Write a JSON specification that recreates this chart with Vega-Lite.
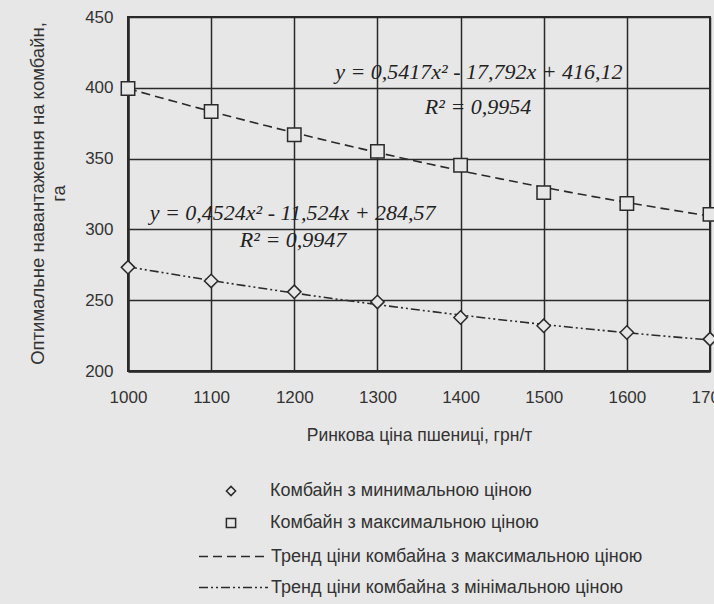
{
  "$schema": "https://vega.github.io/schema/vega-lite/v6.json",
  "width": 582,
  "height": 354,
  "autosize": {"type": "none"},
  "padding": {"left": 128, "top": 17, "right": 4, "bottom": 233},
  "background": "#e7e7e7",
  "config": {
    "view": {"stroke": "#2a2a2a", "strokeWidth": 2},
    "font": "Liberation Sans, Arial",
    "axis": {
      "grid": true,
      "gridColor": "#2a2a2a",
      "gridWidth": 1.5,
      "gridOpacity": 1,
      "domainColor": "#2a2a2a",
      "domainWidth": 2.5,
      "ticks": false,
      "labelFont": "Liberation Sans, Arial",
      "labelFontSize": 17,
      "labelColor": "#333",
      "titleFont": "Liberation Sans, Arial",
      "titleFontWeight": "normal",
      "titleColor": "#333"
    },
    "legend": {
      "orient": "none",
      "padding": 0,
      "labelFont": "Liberation Sans, Arial",
      "labelFontSize": 18,
      "labelColor": "#333",
      "labelLimit": 500,
      "symbolStrokeWidth": 1.5,
      "symbolOpacity": 1
    }
  },
  "datasets": {
    "pts": [
      {"price": 1000, "value": 273.2, "series": "Комбайн з минимальною ціною", "trend": "Тренд ціни комбайна з мінімальною ціною"},
      {"price": 1100, "value": 263.6, "series": "Комбайн з минимальною ціною", "trend": "Тренд ціни комбайна з мінімальною ціною"},
      {"price": 1200, "value": 255.9, "series": "Комбайн з минимальною ціною", "trend": "Тренд ціни комбайна з мінімальною ціною"},
      {"price": 1300, "value": 248.8, "series": "Комбайн з минимальною ціною", "trend": "Тренд ціни комбайна з мінімальною ціною"},
      {"price": 1400, "value": 237.8, "series": "Комбайн з минимальною ціною", "trend": "Тренд ціни комбайна з мінімальною ціною"},
      {"price": 1500, "value": 231.9, "series": "Комбайн з минимальною ціною", "trend": "Тренд ціни комбайна з мінімальною ціною"},
      {"price": 1600, "value": 227.2, "series": "Комбайн з минимальною ціною", "trend": "Тренд ціни комбайна з мінімальною ціною"},
      {"price": 1700, "value": 222.5, "series": "Комбайн з минимальною ціною", "trend": "Тренд ціни комбайна з мінімальною ціною"},
      {"price": 1000, "value": 399.5, "series": "Комбайн з максимальною ціною", "trend": "Тренд ціни комбайна з максимальною ціною"},
      {"price": 1100, "value": 383.3, "series": "Комбайн з максимальною ціною", "trend": "Тренд ціни комбайна з максимальною ціною"},
      {"price": 1200, "value": 366.9, "series": "Комбайн з максимальною ціною", "trend": "Тренд ціни комбайна з максимальною ціною"},
      {"price": 1300, "value": 355.1, "series": "Комбайн з максимальною ціною", "trend": "Тренд ціни комбайна з максимальною ціною"},
      {"price": 1400, "value": 345.3, "series": "Комбайн з максимальною ціною", "trend": "Тренд ціни комбайна з максимальною ціною"},
      {"price": 1500, "value": 326.0, "series": "Комбайн з максимальною ціною", "trend": "Тренд ціни комбайна з максимальною ціною"},
      {"price": 1600, "value": 318.3, "series": "Комбайн з максимальною ціною", "trend": "Тренд ціни комбайна з максимальною ціною"},
      {"price": 1700, "value": 310.6, "series": "Комбайн з максимальною ціною", "trend": "Тренд ціни комбайна з максимальною ціною"}
    ],
    "notes": [
      {"price": 1422, "value": 411, "label": "y = 0,5417x² - 17,792x + 416,12"},
      {"price": 1421, "value": 386.4, "label": "R² = 0,9954"},
      {"price": 1198, "value": 311.6, "label": "y = 0,4524x² - 11,524x + 284,57"},
      {"price": 1198.5, "value": 292.5, "label": "R² = 0,9947"}
    ]
  },
  "layer": [
    {
      "data": {"name": "pts"},
      "transform": [
        {"regression": "value", "on": "price", "method": "poly", "order": 2, "groupby": ["trend"]}
      ],
      "mark": {"type": "line", "color": "#2a2a2a", "strokeWidth": 1.6},
      "encoding": {
        "x": {
          "field": "price", "type": "quantitative",
          "scale": {"domain": [1000, 1700], "nice": false, "zero": false},
          "axis": {
            "values": [1000, 1100, 1200, 1300, 1400, 1500, 1600, 1700],
            "format": "d",
            "labelFlush": false,
            "labelPadding": 18,
            "title": "Ринкова ціна пшениці, грн/т",
            "titleFontSize": 17.5,
            "titleY": 64,
            "titleBaseline": "middle"
          }
        },
        "y": {
          "field": "value", "type": "quantitative",
          "scale": {"domain": [200, 450], "nice": false, "zero": false},
          "axis": {
            "values": [200, 250, 300, 350, 400, 450],
            "labelFlush": false,
            "labelPadding": 15,
            "title": ["Оптимальне навантаження на комбайн,", "га"],
            "titleFontSize": 18.5,
            "titleAngle": -90,
            "titleX": -91,
            "titleY": 176,
            "titleAlign": "center",
            "titleBaseline": "middle",
            "titleLineHeight": 21
          }
        },
        "strokeDash": {
          "field": "trend", "type": "nominal",
          "scale": {
            "domain": ["Тренд ціни комбайна з максимальною ціною", "Тренд ціни комбайна з мінімальною ціною"],
            "range": [[9, 5], [9, 3, 2, 3, 2, 3]]
          },
          "legend": {
            "title": null,
            "symbolType": "M-3,0H3",
            "symbolSize": 529,
            "symbolStrokeColor": "#2a2a2a",
            "symbolStrokeWidth": 1.5,
            "labelOffset": 25,
            "rowPadding": 9,
            "legendX": 93,
            "legendY": 527
          }
        }
      }
    },
    {
      "data": {"name": "pts"},
      "mark": {"type": "point", "filled": false, "fill": "#e7e7e7", "fillOpacity": 1, "strokeWidth": 1.5, "opacity": 1},
      "encoding": {
        "x": {"field": "price", "type": "quantitative"},
        "y": {"field": "value", "type": "quantitative"},
        "color": {
          "field": "series", "type": "nominal",
          "scale": {
            "domain": ["Комбайн з минимальною ціною", "Комбайн з максимальною ціною"],
            "range": ["#2a2a2a", "#2a2a2a"]
          },
          "legend": {
            "title": null,
            "symbolSize": 85,
            "symbolFillColor": "#e7e7e7",
            "symbolStrokeWidth": 1.5,
            "labelOffset": 30,
            "rowPadding": 14,
            "legendX": 94,
            "legendY": 465
          }
        },
        "shape": {
          "field": "series", "type": "nominal",
          "scale": {
            "domain": ["Комбайн з минимальною ціною", "Комбайн з максимальною ціною"],
            "range": ["diamond", "square"]
          },
          "legend": {
            "title": null,
            "symbolSize": 85,
            "symbolFillColor": "#e7e7e7",
            "symbolStrokeWidth": 1.5,
            "labelOffset": 30,
            "rowPadding": 14,
            "legendX": 94,
            "legendY": 465
          }
        },
        "size": {"value": 180}
      }
    },
    {
      "data": {"name": "notes"},
      "mark": {"type": "text", "font": "Liberation Serif", "fontStyle": "italic", "fontSize": 22, "color": "#222", "baseline": "middle", "align": "center"},
      "encoding": {
        "x": {"field": "price", "type": "quantitative"},
        "y": {"field": "value", "type": "quantitative"},
        "text": {"field": "label"}
      }
    }
  ]
}
